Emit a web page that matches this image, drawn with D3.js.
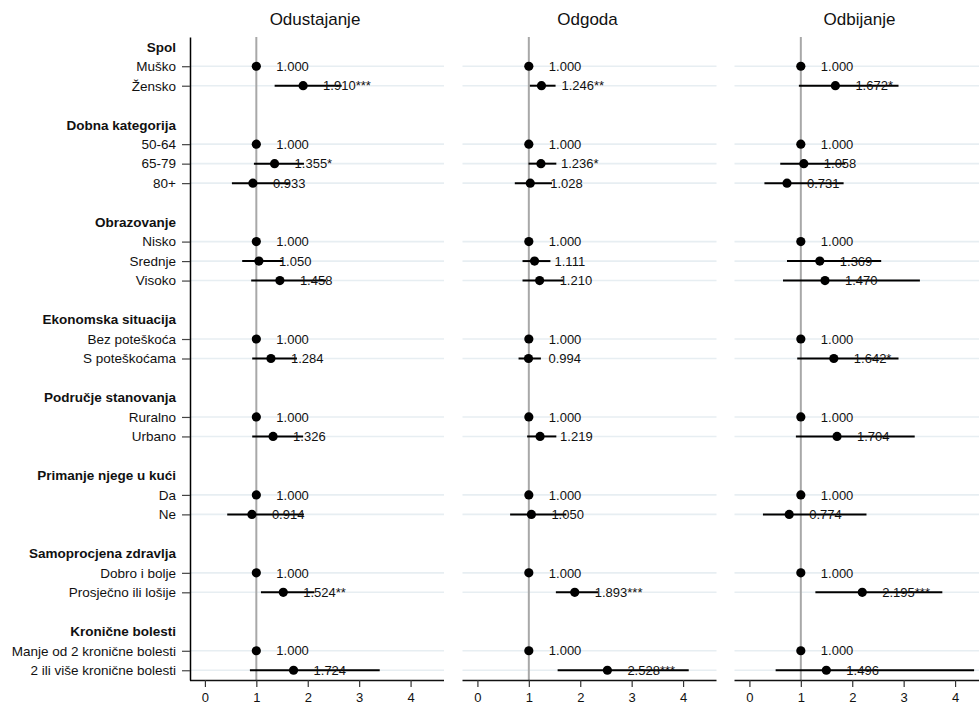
<!DOCTYPE html>
<html>
<head>
<meta charset="utf-8">
<script src="https://cdn.jsdelivr.net/npm/d3@7"></script>
<style>
  html, body { margin: 0; padding: 0; background: #fff; }
  svg { display: block; font-family: "Liberation Sans", Arial, sans-serif; }
</style>
</head>
<body>
<svg id="chart" width="979" height="704"></svg>
<script>
// ---- data ----
const panels = ["Odustajanje", "Odgoda", "Odbijanje"];
const groups = ["Spol", "Dobna kategorija", "Obrazovanje", "Ekonomska situacija",
  "Područje stanovanja", "Primanje njege u kući", "Samoprocjena zdravlja", "Kronične bolesti"];
const items = [
  ["Muško", "Žensko"],
  ["50-64", "65-79", "80+"],
  ["Nisko", "Srednje", "Visoko"],
  ["Bez poteškoća", "S poteškoćama"],
  ["Ruralno", "Urbano"],
  ["Da", "Ne"],
  ["Dobro i bolje", "Prosječno ili lošije"],
  ["Manje od 2 kronične bolesti", "2 ili više kronične bolesti"]
];
// odds ratios per panel, in item order
const orOdustajanje = [1.000, 1.910, 1.000, 1.355, 0.933, 1.000, 1.050, 1.458, 1.000, 1.284, 1.000, 1.326, 1.000, 0.914, 1.000, 1.524, 1.000, 1.724];
const loOdustajanje = [1.000, 1.356, 1.000, 0.953, 0.525, 1.000, 0.725, 0.900, 1.000, 0.920, 1.000, 0.920, 1.000, 0.434, 1.000, 1.090, 1.000, 0.875];
const hiOdustajanje = [1.000, 2.660, 1.000, 1.926, 1.658, 1.000, 1.520, 2.360, 1.000, 1.790, 1.000, 1.910, 1.000, 1.925, 1.000, 2.130, 1.000, 3.400];
const stOdustajanje = ["", "***", "", "*", "", "", "", "", "", "", "", "", "", "", "", "**", "", ""];

const orOdgoda = [1.000, 1.246, 1.000, 1.236, 1.028, 1.000, 1.111, 1.210, 1.000, 0.994, 1.000, 1.219, 1.000, 1.050, 1.000, 1.893, 1.000, 2.528];
const loOdgoda = [1.000, 1.020, 1.000, 0.995, 0.727, 1.000, 0.877, 0.877, 1.000, 0.800, 1.000, 0.967, 1.000, 0.636, 1.000, 1.526, 1.000, 1.560];
const hiOdgoda = [1.000, 1.520, 1.000, 1.535, 1.450, 1.000, 1.420, 1.670, 1.000, 1.235, 1.000, 1.535, 1.000, 1.730, 1.000, 2.345, 1.000, 4.110];
const stOdgoda = ["", "**", "", "*", "", "", "", "", "", "", "", "", "", "", "", "***", "", "***"];

const orOdbijanje = [1.000, 1.672, 1.000, 1.058, 0.731, 1.000, 1.369, 1.470, 1.000, 1.642, 1.000, 1.704, 1.000, 0.774, 1.000, 2.195, 1.000, 1.496];
const loOdbijanje = [1.000, 0.962, 1.000, 0.600, 0.292, 1.000, 0.731, 0.653, 1.000, 0.930, 1.000, 0.904, 1.000, 0.263, 1.000, 1.283, 1.000, 0.510];
const hiOdbijanje = [1.000, 2.900, 1.000, 1.865, 1.832, 1.000, 2.563, 3.316, 1.000, 2.900, 1.000, 3.215, 1.000, 2.277, 1.000, 3.752, 1.000, 4.370];
const stOdbijanje = ["", "*", "", "", "", "", "", "", "", "*", "", "", "", "", "", "***", "", ""];

const xTicks = [0, 1, 2, 3, 4];
const xDomain = [-0.29, 4.65];

const panelData = [
  { or: orOdustajanje, lo: loOdustajanje, hi: hiOdustajanje, st: stOdustajanje },
  { or: orOdgoda, lo: loOdgoda, hi: hiOdgoda, st: stOdgoda },
  { or: orOdbijanje, lo: loOdbijanje, hi: hiOdbijanje, st: stOdbijanje }
];

// ---- build rows ----
const rows = [];
let itemIdx = 0;
groups.forEach((g, gi) => {
  rows.push({ key: "h" + gi, label: g, type: "header" });
  items[gi].forEach(it => {
    rows.push({ key: "i" + itemIdx, label: it, type: "item", idx: itemIdx });
    itemIdx++;
  });
  if (gi < groups.length - 1) rows.push({ key: "b" + gi, label: "", type: "blank" });
});

// ---- layout ----
const svg = d3.select("#chart");
const yTop = 37, yBottom = 680;
const panelLeft = [190, 462.5, 734.5];
const panelWidth = 254;
const textColor = "#111";

const y = d3.scalePoint().domain(rows.map(r => r.key)).range([yTop, yBottom]).padding(0.5);
const itemRows = rows.filter(r => r.type === "item");

panels.forEach((title, pi) => {
  const x0 = panelLeft[pi];
  const x = d3.scaleLinear().domain(xDomain).range([x0, x0 + panelWidth]);
  const d = panelData[pi];
  const g = svg.append("g");

  // gridlines
  g.selectAll("line.grid").data(itemRows).join("line")
    .attr("class", "grid")
    .attr("x1", x0).attr("x2", x0 + panelWidth)
    .attr("y1", r => y(r.key)).attr("y2", r => y(r.key))
    .attr("stroke", "#e7eef2").attr("stroke-width", 1.6);

  // reference line at 1
  g.append("line")
    .attr("x1", x(1)).attr("x2", x(1))
    .attr("y1", yTop).attr("y2", yBottom)
    .attr("stroke", "#a8a8a8").attr("stroke-width", 2);

  // x axis
  const xAxis = d3.axisBottom(x).tickValues(xTicks).tickFormat(d3.format("d"))
    .tickSize(7).tickPadding(6).tickSizeOuter(0);
  const ax = g.append("g").attr("transform", `translate(0,${yBottom})`).call(xAxis);
  ax.select(".domain").attr("stroke", "#111").attr("stroke-width", 1.3)
    .attr("d", `M${x0},0.5H${x0 + panelWidth}`);
  ax.selectAll(".tick line").attr("stroke", "#333").attr("stroke-width", 1.2);
  ax.selectAll(".tick text").attr("font-size", 13).attr("fill", textColor)
    .attr("font-family", '"Liberation Sans", Arial, sans-serif');

  // CI lines
  g.selectAll("line.ci").data(itemRows.filter(r => d.lo[r.idx] !== d.hi[r.idx])).join("line")
    .attr("class", "ci")
    .attr("x1", r => x(d.lo[r.idx])).attr("x2", r => x(d.hi[r.idx]))
    .attr("y1", r => y(r.key)).attr("y2", r => y(r.key))
    .attr("stroke", "#000").attr("stroke-width", 2);

  // value labels
  g.selectAll("text.val").data(itemRows).join("text")
    .attr("class", "val")
    .attr("x", r => x(d.or[r.idx]) + 20)
    .attr("y", r => y(r.key))
    .attr("dy", "0.36em")
    .attr("font-size", 13)
    .attr("fill", textColor)
    .text(r => d3.format(".3f")(d.or[r.idx]) + d.st[r.idx]);

  // points
  g.selectAll("circle").data(itemRows).join("circle")
    .attr("cx", r => x(d.or[r.idx])).attr("cy", r => y(r.key))
    .attr("r", 4.6).attr("fill", "#000");

  // title
  svg.append("text")
    .attr("x", x0 + panelWidth / 2 - 2).attr("y", 25)
    .attr("text-anchor", "middle").attr("font-size", 17).attr("fill", textColor)
    .text(title);
});

// y axis on first panel
const nonBlank = rows.filter(r => r.type !== "blank");
const yAxis = d3.axisLeft(y)
  .tickValues(nonBlank.map(r => r.key))
  .tickFormat(k => rows.find(r => r.key === k).label)
  .tickSize(8).tickPadding(6).tickSizeOuter(0);
const ay = svg.append("g").attr("transform", `translate(${panelLeft[0]},0)`).call(yAxis);
ay.select(".domain").attr("stroke", "#000").attr("stroke-width", 1.5);
ay.selectAll(".tick line").attr("stroke", "#444").attr("stroke-width", 1.2);
ay.selectAll(".tick text").attr("font-size", 13.5).attr("fill", textColor)
  .attr("font-family", '"Liberation Sans", Arial, sans-serif');
ay.selectAll(".tick").filter(k => rows.find(r => r.key === k).type === "header")
  .each(function() {
    d3.select(this).select("line").remove();
    d3.select(this).select("text").attr("font-weight", "bold");
  });
</script>
</body>
</html>
